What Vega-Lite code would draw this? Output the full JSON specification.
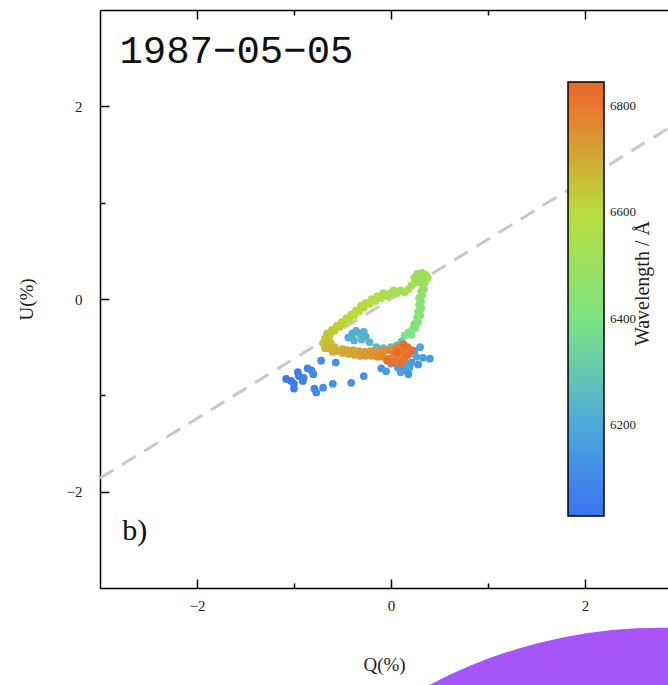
{
  "$schema": "https://vega.github.io/schema/vega-lite/v6.json",
  "autosize": {"type": "none"},
  "padding": {"left": 100, "top": 10, "right": 0, "bottom": 97},
  "width": 568,
  "height": 578,
  "background": "white",
  "config": {
    "view": {"stroke": null},
    "axis": {
      "domainColor": "black", "domainWidth": 1.5, "tickColor": "black", "tickWidth": 1.5,
      "grid": false, "labelFont": "Liberation Serif", "labelFontSize": 15, "labelColor": "#222",
      "titleFont": "Liberation Serif", "titleFontSize": 19, "titleFontWeight": "normal", "titleColor": "#222"
    }
  },
  "datasets": {
    "pts": [
      {"Q": -1.08, "U": -0.83, "W": 6045}, {"Q": -1.03, "U": -0.85, "W": 6050}, {"Q": -1.0, "U": -0.88, "W": 6055},
      {"Q": -1.0, "U": -0.93, "W": 6060}, {"Q": -0.96, "U": -0.76, "W": 6065}, {"Q": -0.95, "U": -0.8, "W": 6070},
      {"Q": -0.91, "U": -0.85, "W": 6075}, {"Q": -0.9, "U": -0.82, "W": 6080}, {"Q": -0.86, "U": -0.72, "W": 6085},
      {"Q": -0.82, "U": -0.74, "W": 6090}, {"Q": -0.8, "U": -0.78, "W": 6095}, {"Q": -0.79, "U": -0.93, "W": 6100},
      {"Q": -0.77, "U": -0.97, "W": 6105}, {"Q": -0.72, "U": -0.64, "W": 6110}, {"Q": -0.7, "U": -0.92, "W": 6115},
      {"Q": -0.6, "U": -0.88, "W": 6120}, {"Q": -0.57, "U": -0.66, "W": 6125}, {"Q": -0.41, "U": -0.87, "W": 6130},
      {"Q": -0.28, "U": -0.8, "W": 6135}, {"Q": -0.1, "U": -0.72, "W": 6140}, {"Q": 0.28, "U": -0.68, "W": 6142},
      {"Q": 0.0, "U": -0.67, "W": 6145}, {"Q": 0.18, "U": -0.78, "W": 6148}, {"Q": 0.07, "U": -0.71, "W": 6150},
      {"Q": -0.05, "U": -0.75, "W": 6152}, {"Q": 0.13, "U": -0.74, "W": 6155}, {"Q": 0.4, "U": -0.62, "W": 6158},
      {"Q": 0.21, "U": -0.66, "W": 6160}, {"Q": 0.24, "U": -0.54, "W": 6165}, {"Q": 0.33, "U": -0.61, "W": 6170},
      {"Q": 0.19, "U": -0.71, "W": 6175}, {"Q": 0.1, "U": -0.76, "W": 6180}, {"Q": 0.15, "U": -0.68, "W": 6185},
      {"Q": 0.05, "U": -0.62, "W": 6190}, {"Q": 0.26, "U": -0.6, "W": 6192}, {"Q": 0.3, "U": -0.5, "W": 6195},
      {"Q": -0.44, "U": -0.4, "W": 6200}, {"Q": -0.4, "U": -0.36, "W": 6210}, {"Q": -0.36, "U": -0.33, "W": 6215},
      {"Q": -0.32, "U": -0.36, "W": 6220}, {"Q": -0.28, "U": -0.34, "W": 6225}, {"Q": -0.26, "U": -0.39, "W": 6230},
      {"Q": -0.38, "U": -0.43, "W": 6235}, {"Q": -0.3, "U": -0.42, "W": 6240}, {"Q": -0.22, "U": -0.45, "W": 6250},
      {"Q": -0.15, "U": -0.5, "W": 6260}, {"Q": -0.08, "U": -0.51, "W": 6270}, {"Q": 0.0, "U": -0.5, "W": 6280},
      {"Q": 0.06, "U": -0.48, "W": 6290}, {"Q": 0.11, "U": -0.44, "W": 6300},
      {"Q": 0.14, "U": -0.38, "W": 6390}, {"Q": 0.18, "U": -0.35, "W": 6400}, {"Q": 0.21, "U": -0.37, "W": 6405},
      {"Q": 0.22, "U": -0.32, "W": 6410}, {"Q": 0.25, "U": -0.3, "W": 6415}, {"Q": 0.24, "U": -0.26, "W": 6420},
      {"Q": 0.28, "U": -0.24, "W": 6425}, {"Q": 0.27, "U": -0.19, "W": 6430}, {"Q": 0.3, "U": -0.17, "W": 6435},
      {"Q": 0.28, "U": -0.13, "W": 6440}, {"Q": 0.31, "U": -0.1, "W": 6445}, {"Q": 0.29, "U": -0.06, "W": 6450},
      {"Q": 0.31, "U": -0.03, "W": 6455}, {"Q": 0.29, "U": 0.01, "W": 6460}, {"Q": 0.32, "U": 0.04, "W": 6465},
      {"Q": 0.31, "U": 0.08, "W": 6470}, {"Q": 0.34, "U": 0.1, "W": 6475}, {"Q": 0.33, "U": 0.14, "W": 6480},
      {"Q": 0.35, "U": 0.17, "W": 6485}, {"Q": 0.3, "U": 0.18, "W": 6490}, {"Q": 0.33, "U": 0.21, "W": 6495},
      {"Q": 0.29, "U": 0.23, "W": 6500}, {"Q": 0.32, "U": 0.27, "W": 6505}, {"Q": 0.36, "U": 0.25, "W": 6510},
      {"Q": 0.38, "U": 0.22, "W": 6512}, {"Q": 0.27, "U": 0.26, "W": 6515}, {"Q": 0.24, "U": 0.22, "W": 6518},
      {"Q": 0.25, "U": 0.17, "W": 6520}, {"Q": 0.21, "U": 0.14, "W": 6523}, {"Q": 0.18, "U": 0.1, "W": 6526},
      {"Q": 0.14, "U": 0.07, "W": 6530}, {"Q": 0.1, "U": 0.09, "W": 6534}, {"Q": 0.06, "U": 0.06, "W": 6538},
      {"Q": 0.03, "U": 0.09, "W": 6542}, {"Q": -0.01, "U": 0.06, "W": 6546}, {"Q": -0.04, "U": 0.03, "W": 6550},
      {"Q": -0.08, "U": 0.06, "W": 6554}, {"Q": -0.1, "U": 0.01, "W": 6558}, {"Q": -0.14, "U": 0.03, "W": 6562},
      {"Q": -0.16, "U": -0.02, "W": 6566}, {"Q": -0.2, "U": 0.0, "W": 6570}, {"Q": -0.22, "U": -0.05, "W": 6574},
      {"Q": -0.26, "U": -0.04, "W": 6578}, {"Q": -0.28, "U": -0.09, "W": 6582}, {"Q": -0.31, "U": -0.07, "W": 6586},
      {"Q": -0.33, "U": -0.13, "W": 6590}, {"Q": -0.36, "U": -0.12, "W": 6594}, {"Q": -0.38, "U": -0.17, "W": 6598},
      {"Q": -0.41, "U": -0.16, "W": 6602}, {"Q": -0.43, "U": -0.21, "W": 6606}, {"Q": -0.46, "U": -0.2, "W": 6610},
      {"Q": -0.48, "U": -0.25, "W": 6614}, {"Q": -0.51, "U": -0.24, "W": 6618}, {"Q": -0.53, "U": -0.29, "W": 6622},
      {"Q": -0.56, "U": -0.28, "W": 6626}, {"Q": -0.58, "U": -0.33, "W": 6630}, {"Q": -0.61, "U": -0.32, "W": 6634},
      {"Q": -0.63, "U": -0.37, "W": 6638}, {"Q": -0.66, "U": -0.36, "W": 6642}, {"Q": -0.68, "U": -0.41, "W": 6646},
      {"Q": -0.64, "U": -0.42, "W": 6650}, {"Q": -0.7, "U": -0.46, "W": 6656}, {"Q": -0.66, "U": -0.47, "W": 6662},
      {"Q": -0.62, "U": -0.46, "W": 6668}, {"Q": -0.68, "U": -0.51, "W": 6672}, {"Q": -0.63, "U": -0.51, "W": 6676},
      {"Q": -0.58, "U": -0.5, "W": 6680}, {"Q": -0.6, "U": -0.55, "W": 6684}, {"Q": -0.55, "U": -0.54, "W": 6688},
      {"Q": -0.5, "U": -0.52, "W": 6692}, {"Q": -0.5, "U": -0.56, "W": 6696}, {"Q": -0.45, "U": -0.53, "W": 6700},
      {"Q": -0.44, "U": -0.57, "W": 6705}, {"Q": -0.39, "U": -0.53, "W": 6710}, {"Q": -0.38, "U": -0.58, "W": 6715},
      {"Q": -0.33, "U": -0.54, "W": 6720}, {"Q": -0.32, "U": -0.59, "W": 6725}, {"Q": -0.27, "U": -0.55, "W": 6730},
      {"Q": -0.26, "U": -0.59, "W": 6735}, {"Q": -0.21, "U": -0.54, "W": 6740}, {"Q": -0.2, "U": -0.59, "W": 6745},
      {"Q": -0.15, "U": -0.55, "W": 6750}, {"Q": -0.14, "U": -0.6, "W": 6755}, {"Q": -0.09, "U": -0.54, "W": 6760},
      {"Q": -0.08, "U": -0.6, "W": 6765}, {"Q": -0.03, "U": -0.53, "W": 6770}, {"Q": -0.02, "U": -0.62, "W": 6775},
      {"Q": 0.03, "U": -0.52, "W": 6780}, {"Q": 0.03, "U": -0.58, "W": 6785}, {"Q": 0.08, "U": -0.5, "W": 6790},
      {"Q": 0.08, "U": -0.62, "W": 6795}, {"Q": 0.12, "U": -0.55, "W": 6800}, {"Q": 0.14, "U": -0.62, "W": 6805},
      {"Q": 0.17, "U": -0.5, "W": 6810}, {"Q": 0.02, "U": -0.66, "W": 6815}, {"Q": 0.1, "U": -0.67, "W": 6820},
      {"Q": 0.18, "U": -0.58, "W": 6825}, {"Q": 0.21, "U": -0.53, "W": 6830}, {"Q": -0.04, "U": -0.64, "W": 6835},
      {"Q": 0.06, "U": -0.55, "W": 6840}, {"Q": 0.13, "U": -0.47, "W": 6845}
    ],
    "fit": [{"Q": -3, "U": -1.86}, {"Q": 2.856, "U": 1.77}],
    "one": [{}]
  },
  "resolve": {"axis": {"x": "independent"}},
  "layer": [
    {
      "data": {"name": "fit"},
      "mark": {"type": "line", "color": "#c8c8c8", "strokeWidth": 3, "strokeDash": [16, 10], "clip": true},
      "encoding": {
        "x": {"field": "Q", "type": "quantitative", "scale": {"domain": [-3, 2.856], "nice": false, "zero": false},
          "axis": {"orient": "top", "values": [-2, -1, 0, 1, 2], "labels": false, "title": null,
            "tickSize": {"condition": {"test": "datum.value % 2 === 0", "value": -9}, "value": -5}}},
        "y": {"field": "U", "type": "quantitative"}
      }
    },
    {
      "data": {"name": "pts"},
      "mark": {"type": "circle", "size": 60, "opacity": 1},
      "encoding": {
        "x": {"field": "Q", "type": "quantitative", "scale": {"domain": [-3, 2.856], "nice": false, "zero": false},
          "axis": {"orient": "bottom", "values": [-2, -1, 0, 1, 2], "title": "Q(%)", "titlePadding": 42, "format": "d",
            "labelExpr": "datum.value % 2 === 0 ? datum.label : ''", "labelPadding": 19,
            "tickSize": {"condition": {"test": "datum.value % 2 === 0", "value": -9}, "value": -5}}},
        "y": {"field": "U", "type": "quantitative", "scale": {"domain": [-3, 3], "nice": false, "zero": false},
          "axis": {"values": [-2, -1, 0, 1, 2], "title": "U(%)", "titlePadding": 30, "format": "d",
            "labelExpr": "datum.value % 2 === 0 ? datum.label : ''", "labelPadding": 27,
            "tickSize": {"condition": {"test": "datum.value % 2 === 0", "value": -9}, "value": -5}}},
        "color": {"field": "W", "type": "quantitative",
          "scale": {"domain": [6030, 6200, 6400, 6600, 6800, 6845], "interpolate": "rgb",
            "range": ["#3a72f0", "#4eaadc", "#7ce382", "#b9dc3c", "#e8782e", "#e9682a"]},
          "legend": {"orient": "none", "legendX": 468, "legendY": 72, "direction": "vertical",
            "gradientLength": 434, "gradientThickness": 36, "gradientStrokeColor": "black", "gradientStrokeWidth": 1.5,
            "title": null, "values": [6200, 6400, 6600, 6800], "format": "d", "labelFont": "Liberation Serif", "labelFontSize": 13,
            "labelOffset": 6, "labelColor": "#222", "padding": 0, "labelOverlap": false}}
      }
    },
    {
      "data": {"name": "one"},
      "mark": {"type": "text", "text": "1987−05−05", "font": "Liberation Mono", "fontSize": 39, "align": "left", "baseline": "alphabetic", "color": "#111"},
      "encoding": {"x": {"datum": -2.8, "axis": null}, "y": {"datum": 2.45}}
    },
    {
      "data": {"name": "one"},
      "mark": {"type": "text", "text": "b)", "font": "Liberation Serif", "fontSize": 30, "align": "left", "baseline": "alphabetic", "color": "#111"},
      "encoding": {"x": {"datum": -2.77, "axis": null}, "y": {"datum": -2.5}}
    },
    {
      "data": {"name": "one"},
      "mark": {"type": "text", "text": "Wavelength / Å", "font": "Liberation Serif", "fontSize": 20, "align": "center", "baseline": "middle", "angle": 270, "color": "#222"},
      "encoding": {"x": {"datum": 2.6, "axis": null}, "y": {"datum": 0.16}}
    },
    {
      "data": {"name": "one"},
      "mark": {"type": "point", "shape": "circle", "filled": true, "size": 980100, "color": "#a855f7", "opacity": 1, "clip": false, "strokeWidth": 0},
      "encoding": {"x": {"datum": 2.78, "axis": null}, "y": {"datum": -8.55}}
    }
  ]
}
